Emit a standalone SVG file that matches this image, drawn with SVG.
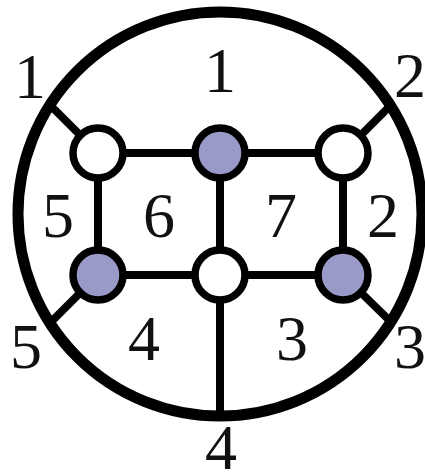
<svg xmlns="http://www.w3.org/2000/svg" width="425" height="473" viewBox="0 0 425 473">
<style>
.edge{stroke:#000;stroke-width:8;fill:none}
.node{stroke:#000;stroke-width:7.5}
.w{fill:#fff}
.f{fill:#9a9ac8}
.lbl{font-family:"Liberation Serif",serif;font-size:64px;fill:#111;text-anchor:middle}
</style>
<rect width="425" height="473" fill="#fff"/>
<g id="connectors">
<circle id="outer" cx="220" cy="214" r="202" fill="none" stroke="#000" stroke-width="11"/>
<line class="edge" x1="98" y1="153" x2="343" y2="153"/>
<line class="edge" x1="98" y1="275" x2="343" y2="275"/>
<line class="edge" x1="98" y1="153" x2="98" y2="275"/>
<line class="edge" x1="220" y1="153" x2="220" y2="275"/>
<line class="edge" x1="343" y1="153" x2="343" y2="275"/>
<line class="edge" x1="220" y1="275" x2="220" y2="416"/>
<line class="edge" x1="98" y1="153" x2="50" y2="105"/>
<line class="edge" x1="343" y1="153" x2="390" y2="106"/>
<line class="edge" x1="98" y1="275" x2="52" y2="321"/>
<line class="edge" x1="343" y1="275" x2="390" y2="321"/>
</g>
<g id="n1"><circle class="node w" cx="98" cy="153" r="25"/></g>
<g id="n2"><circle class="node f" cx="220" cy="153" r="25"/></g>
<g id="n3"><circle class="node w" cx="343" cy="153" r="25"/></g>
<g id="n4"><circle class="node f" cx="98" cy="275" r="25"/></g>
<g id="n5"><circle class="node w" cx="220" cy="275" r="25"/></g>
<g id="n6"><circle class="node f" cx="343" cy="275" r="25"/></g>
<g id="labels">
<text class="lbl" x="30" y="98">1</text>
<text class="lbl" x="220" y="92">1</text>
<text class="lbl" x="410" y="97">2</text>
<text class="lbl" x="58" y="237">5</text>
<text class="lbl" x="159" y="237">6</text>
<text class="lbl" x="281" y="237">7</text>
<text class="lbl" x="383" y="237">2</text>
<text class="lbl" x="144" y="360">4</text>
<text class="lbl" x="292" y="360">3</text>
<text class="lbl" x="26" y="368">5</text>
<text class="lbl" x="410" y="368">3</text>
<text class="lbl" x="221" y="469">4</text>
</g>
</svg>
